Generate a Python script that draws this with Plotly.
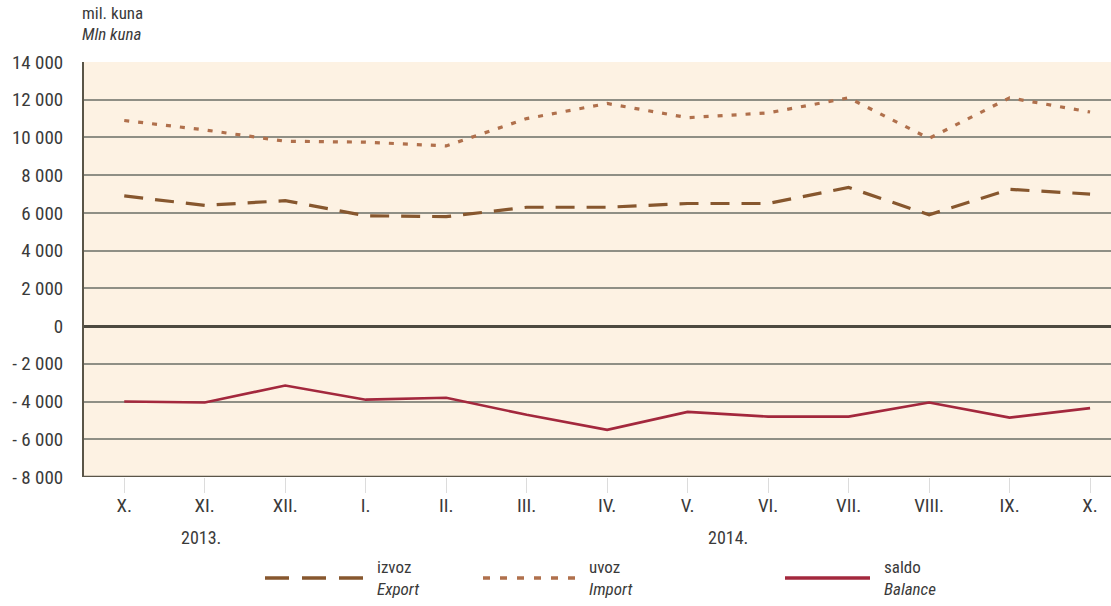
import plotly.graph_objects as go

months = ["X.", "XI.", "XII.", "I.", "II.", "III.", "IV.", "V.", "VI.", "VII.", "VIII.", "IX.", "X."]
export_vals = [6900, 6400, 6650, 5850, 5800, 6300, 6300, 6500, 6500, 7350, 5900, 7250, 7000]
import_vals = [10900, 10400, 9800, 9750, 9550, 11000, 11800, 11050, 11300, 12100, 9950, 12100, 11350]
balance_vals = [-4000, -4050, -3150, -3900, -3800, -4700, -5500, -4550, -4800, -4800, -4050, -4850, -4350]
y_ticks = [14000, 12000, 10000, 8000, 6000, 4000, 2000, 0, -2000, -4000, -6000, -8000]
y_ticktext = ["14 000", "12 000", "10 000", "8 000", "6 000", "4 000", "2 000", "0",
              "- 2 000", "- 4 000", "- 6 000", "- 8 000"]
years = ["2013.", "2014."]

FONT = "Liberation Sans Narrow, Arial Narrow, Roboto Condensed, Liberation Sans, sans-serif"
C_EXP = "#87572E"
C_IMP = "#B0704C"
C_BAL = "#A3283D"
TXT = "#3a3a3a"

x = list(range(len(months)))

fig = go.Figure()
fig.add_trace(go.Scatter(x=x, y=import_vals, mode="lines", name="uvoz",
                         line=dict(color=C_IMP, width=3.2, dash="5px,9px"), showlegend=False))
fig.add_trace(go.Scatter(x=x, y=export_vals, mode="lines", name="izvoz",
                         line=dict(color=C_EXP, width=3.2, dash="19px,12px"), showlegend=False))
fig.add_trace(go.Scatter(x=x, y=balance_vals, mode="lines", name="saldo",
                         line=dict(color=C_BAL, width=2.6), showlegend=False))

fig.update_layout(
    width=1111, height=606,
    margin=dict(l=84, r=0, t=62, b=129, autoexpand=False),
    paper_bgcolor="white",
    plot_bgcolor="#FDF2E3",
    font=dict(family=FONT, size=19, color=TXT),
    xaxis=dict(
        range=[-0.5, 12.26],
        tickmode="array", tickvals=x, ticktext=months,
        showgrid=False, zeroline=False, automargin=False,
        ticks="outside", ticklen=15, tickcolor="#dcdcdc", tickwidth=1,
        tickson="boundaries",
        showline=False,
        tickfont=dict(size=19, color=TXT),
        ticklabelstandoff=-4,
    ),
    yaxis=dict(
        range=[-8000, 14000], automargin=False,
        tickmode="array", tickvals=y_ticks, ticktext=y_ticktext,
        showgrid=True, gridcolor="#8f8f85", gridwidth=1.5,
        zeroline=True, zerolinecolor="#4d4a40", zerolinewidth=2.5,
        showline=True, linecolor="#5a5548", linewidth=2,
        ticks="", ticklabelstandoff=15,
        tickfont=dict(size=19, color=TXT),
    ),
)

# bottom axis line at -8000
fig.add_shape(type="line", xref="paper", yref="y", x0=0, x1=1, y0=-8000, y1=-8000,
              line=dict(color="#5a5548", width=2.5))

# unit labels
fig.add_annotation(xref="paper", yref="paper", x=0, y=1, xshift=-4, yshift=49,
                   text="mil. kuna", showarrow=False, xanchor="left", yanchor="middle",
                   font=dict(size=17, color=TXT))
fig.add_annotation(xref="paper", yref="paper", x=0, y=1, xshift=-4, yshift=28,
                   text="<i>Mln kuna</i>", showarrow=False, xanchor="left", yanchor="middle",
                   font=dict(size=17, color=TXT))

# year labels
for xpos, label in zip([0.95, 7.5], years):
    fig.add_annotation(xref="x", yref="paper", x=xpos, y=0, yshift=-60,
                       text=label, showarrow=False, xanchor="center", yanchor="middle",
                       font=dict(size=18, color=TXT))

# custom legend
legend_items = [
    ("izvoz", "Export", C_EXP, "24px,13px", 265, 363),
    ("uvoz", "Import", C_IMP, "7px,10px", 483, 575),
    ("saldo", "Balance", C_BAL, "solid", 785, 870),
]
W = 1111
for hr, en, col, dash, xa, xb in legend_items:
    yy = -(578 - 477) / (477 - 62)
    fig.add_shape(type="line", xref="paper", yref="paper",
                  x0=(xa - 84) / (W - 84), x1=(xb - 84) / (W - 84),
                  y0=yy, y1=yy,
                  line=dict(color=col, width=3.5, dash=dash))
    fig.add_annotation(xref="paper", yref="paper",
                       x=(xb + 12 - 84) / (W - 84), y=yy,
                       text=f"{hr}<br><i>{en}</i>", showarrow=False,
                       xanchor="left", yanchor="middle", align="left",
                       font=dict(size=17, color=TXT))

fig.write_html("out.html", config={"displayModeBar": False},
               post_script="document.body.style.margin='0';document.body.style.overflow='hidden';")
